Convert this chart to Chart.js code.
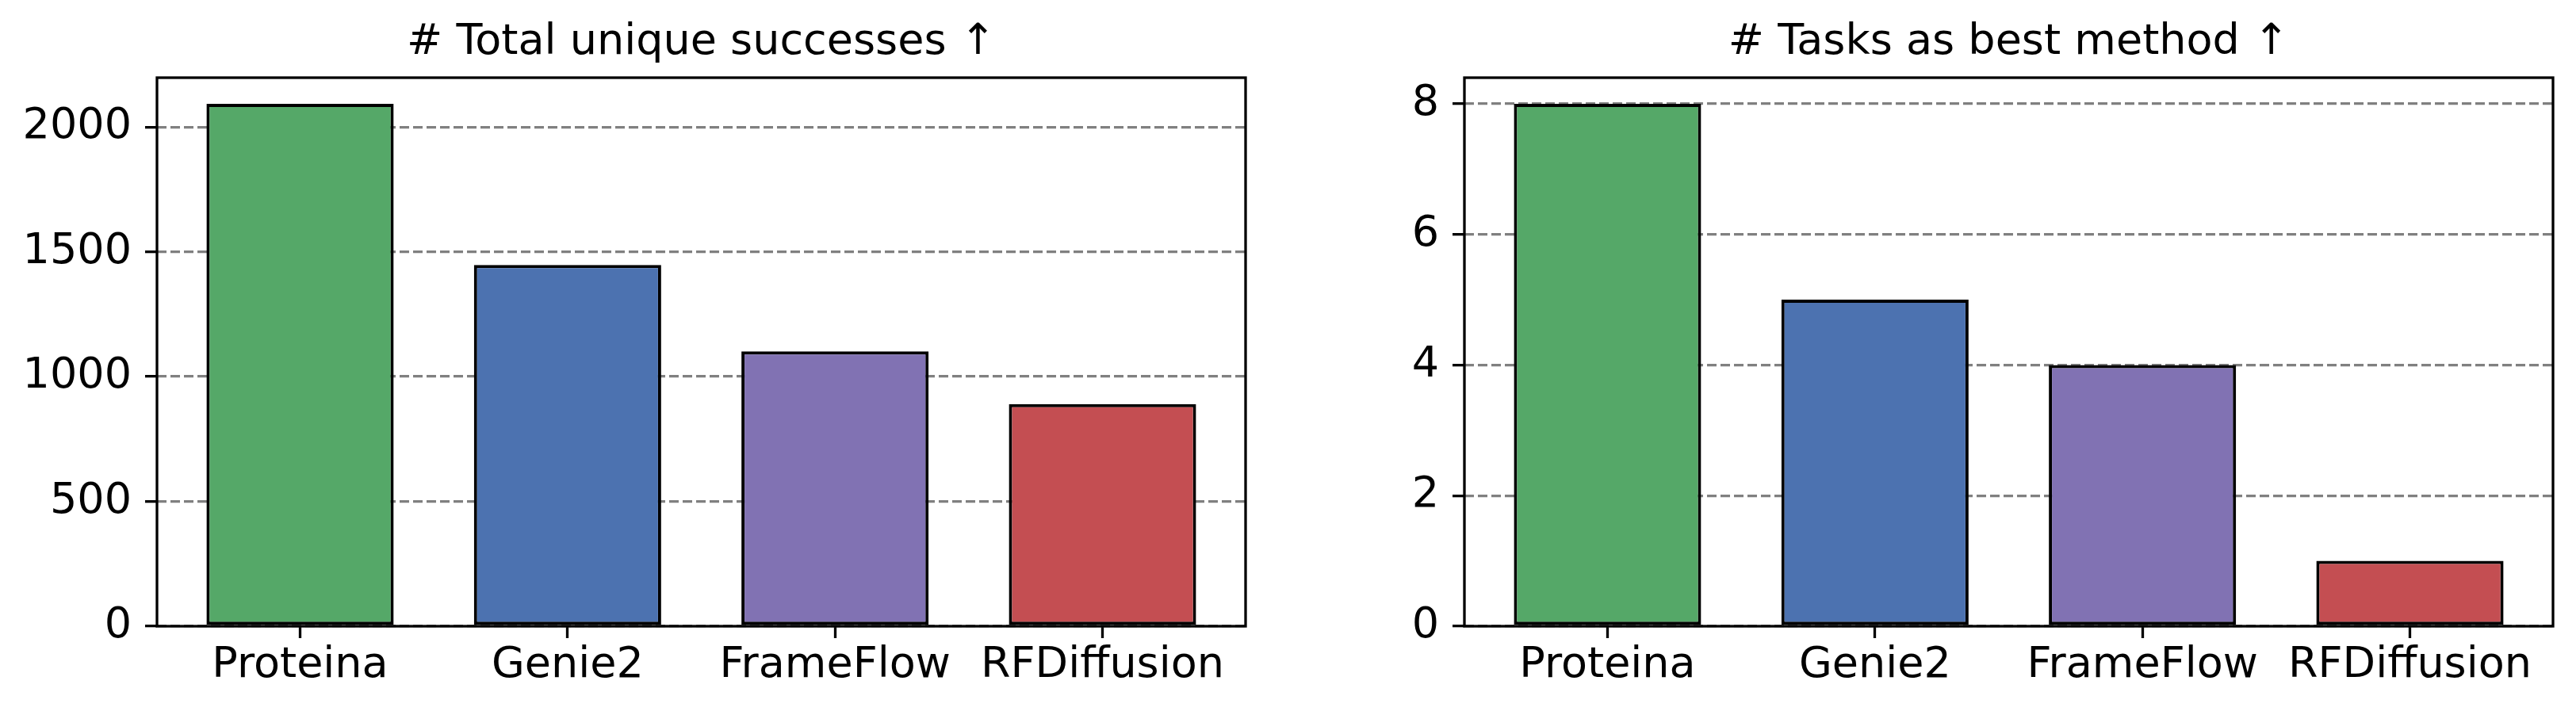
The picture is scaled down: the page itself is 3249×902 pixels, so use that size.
<!DOCTYPE html>
<html>
<head>
<meta charset="utf-8">
<script src="https://cdn.jsdelivr.net/npm/chart.js@4/dist/chart.umd.min.js"></script>
<style>
  html, body { margin: 0; padding: 0; background: #fff; overflow: hidden; }
  #wrap { position: relative; width: 3249px; height: 902px; }
  canvas { position: absolute; top: 0; }
  #left { left: 0; }
  #right { left: 1624px; }
</style>
</head>
<body>
<div id="wrap">
  <canvas id="left" width="1624" height="902"></canvas>
  <canvas id="right" width="1625" height="902"></canvas>
</div>
<script>
const categories = ['Proteina', 'Genie2', 'FrameFlow', 'RFDiffusion'];
const uniqueSuccesses = [2093, 1447, 1101, 890];
const tasksAsBest = [8, 5, 4, 1];
const successTicks = [0, 500, 1000, 1500, 2000];
const taskTicks = [0, 2, 4, 6, 8];
const barColors = ['#55A868', '#4C72B0', '#8172B3', '#C44E52'];

Chart.defaults.font.family = 'DejaVu Sans';
Chart.defaults.color = '#000';

const LW = 3.3;

// top/right spines like matplotlib, drawn over the bars
const frame = {
  id: 'frame',
  afterDraw(chart) {
    const { ctx, chartArea: a } = chart;
    ctx.save();
    ctx.strokeStyle = '#000';
    ctx.lineWidth = LW;
    ctx.strokeRect(a.left, a.top, a.right - a.left, a.bottom - a.top);
    ctx.restore();
  }
};

function makeChart(id, title, values, yTicks, yWidth, padRight) {
  // matplotlib-ish limits: bars of width 0.7, 5% margins
  const xMin = -0.35 - 0.05 * (values.length - 0.3);
  const xMax = values.length - 1 + 0.35 + 0.05 * (values.length - 0.3);
  return new Chart(document.getElementById(id), {
    type: 'bar',
    data: {
      datasets: [{
        data: values.map((v, i) => ({ x: i, y: v })),
        backgroundColor: barColors,
        borderColor: '#000',
        borderWidth: 4,
        borderSkipped: false,
        barPercentage: 0.7,
        categoryPercentage: 1
      }]
    },
    options: {
      responsive: false,
      devicePixelRatio: 1,
      animation: false,
      layout: { padding: { left: 0, right: padRight, top: 0, bottom: 0 } },
      plugins: {
        legend: { display: false },
        tooltip: { enabled: false },
        title: {
          display: true,
          text: title,
          fullSize: false,
          color: '#000',
          font: { size: 54, weight: 'normal', lineHeight: 1.2 },
          padding: { top: 22, bottom: 11.2 }
        }
      },
      scales: {
        x: {
          type: 'linear',
          offset: false,
          min: xMin,
          max: xMax,
          afterBuildTicks: s => { s.ticks = categories.map((c, i) => ({ value: i })); },
          afterFit: s => { s.height = 112; },
          grid: {
            display: true,
            offset: false,
            drawOnChartArea: false,
            drawTicks: true,
            tickLength: 15,
            tickColor: '#000',
            tickWidth: LW
          },
          border: { display: false },
          ticks: {
            autoSkip: false,
            maxRotation: 0,
            padding: 3,
            font: { size: 54 },
            callback: v => categories[v]
          }
        },
        y: {
          min: 0,
          max: Math.max(...values) * 1.05,
          afterBuildTicks: s => { s.ticks = yTicks.map(v => ({ value: v })); },
          afterFit: s => { s.width = yWidth; },
          grid: {
            color: 'gray',
            lineWidth: LW,
            tickLength: 15,
            tickColor: '#000',
            tickWidth: LW,
            tickBorderDash: []
          },
          border: { display: false, dash: [12, 5] },
          ticks: {
            padding: 17,
            font: { size: 54 },
            callback: v => String(v)
          }
        }
      }
    },
    plugins: [frame]
  });
}

makeChart('left', '# Total unique successes \u2191', uniqueSuccesses, successTicks, 198, 53);
makeChart('right', '# Tasks as best method \u2191', tasksAsBest, taskTicks, 223, 29);
</script>
</body>
</html>
